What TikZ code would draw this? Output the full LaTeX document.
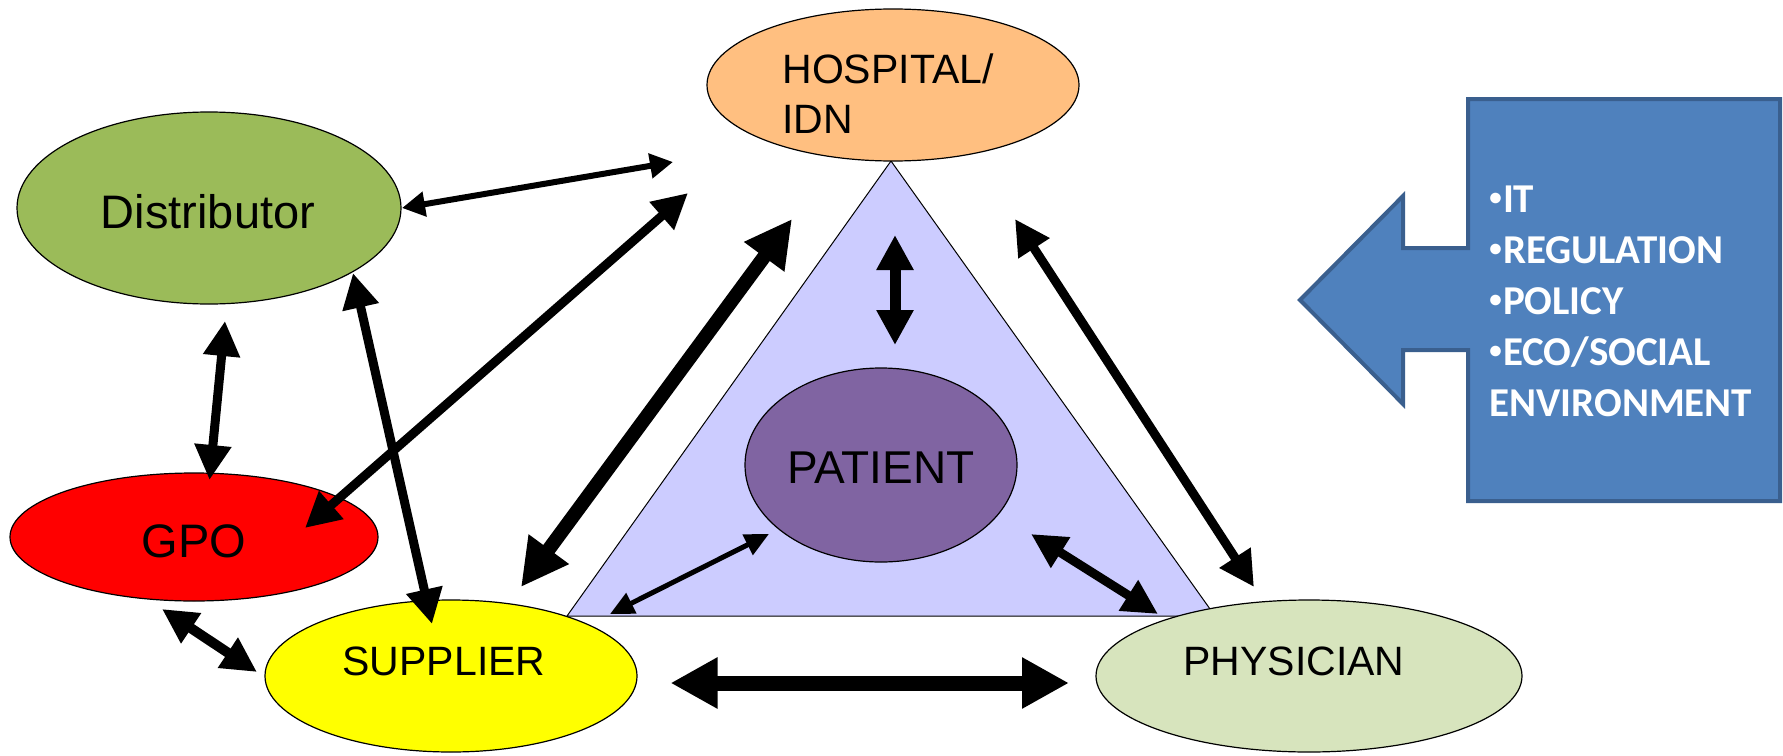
\documentclass[tikz,border=0pt]{standalone}
\usepackage{fontspec}
\setmainfont{Liberation Sans}
\newfontfamily\calfont{Carlito}
\usetikzlibrary{arrows.meta,shapes.geometric}
\definecolor{hospc}{HTML}{FFBF80}
\definecolor{distc}{HTML}{9BBB59}
\definecolor{gpoc}{HTML}{FF0000}
\definecolor{suppc}{HTML}{FFFF00}
\definecolor{physc}{HTML}{D7E4BD}
\definecolor{patc}{HTML}{8064A2}
\definecolor{tric}{HTML}{CCCCFF}
\definecolor{bluec}{HTML}{4F81BD}
\definecolor{blueb}{HTML}{3A5F8E}
\newcommand{\smbul}{\makebox[6.8pt][l]{\raisebox{3.1pt}{\fontsize{12.5pt}{14pt}\selectfont •}}}
\begin{document}
\begin{tikzpicture}[x=0.5pt,y=-0.5pt,
  ell/.style={ellipse,draw=black,line width=0.6pt,inner sep=0pt},
  lab/.style={anchor=base,inner sep=0pt,font=\fontsize{20.5pt}{25pt}\selectfont},
  biglab/.style={anchor=base,inner sep=0pt,font=\fontsize{23.5pt}{28pt}\selectfont},
  blab/.style={anchor=base west,inner sep=0pt,text=white,font=\calfont\bfseries\fontsize{20.5pt}{25pt}\selectfont},
  darr/.style n args={3}{line width=#1,arrows={Triangle[length=#2,width=#3]-Triangle[length=#2,width=#3]}}
]
\useasboundingbox (0,0) rectangle (1783,755);

% triangle
\coordinate (tA) at (891,161);
\coordinate (tB) at (567,616);
\coordinate (tC) at (1215,616);
\filldraw[fill=tric,draw=black,line width=0.5pt] (tA) -- (tB) -- (tC) -- cycle;

% ellipses
\node[ell,fill=hospc,minimum width=186pt,minimum height=76pt] (hosp) at (893,85) {};
\node[ell,fill=distc,minimum width=192pt,minimum height=96pt] (dist) at (209,208) {};
\node[ell,fill=gpoc,minimum width=184pt,minimum height=64pt] (gpo) at (194,537) {};
\node[ell,fill=suppc,minimum width=186pt,minimum height=76pt] (supp) at (451,676) {};
\node[ell,fill=physc,minimum width=213pt,minimum height=76pt] (phys) at (1309,676) {};
\node[ell,fill=patc,minimum width=136pt,minimum height=97pt] (pat) at (881,465) {};

% labels
\node[lab,anchor=base west] (hospT1) at (782,83) {HOSPITAL/};
\node[lab,anchor=base west] (hospT2) at (782,133) {IDN};
\node[biglab] (distT) at (208,228) {Distributor};
\node[biglab] (gpoT) at (194,557) {GPO};
\node[lab] (suppT) at (444,675) {SUPPLIER};
\node[lab] (physT) at (1294,675) {PHYSICIAN};
\node[biglab,font=\fontsize{23pt}{28pt}\selectfont] (patT) at (881,483) {PATIENT};

% arrow end points
\coordinate (a1s) at (402,208);  \coordinate (a1e) at (673,162);
\coordinate (a2s) at (305,528);  \coordinate (a2e) at (688,193);
\coordinate (a3s) at (225,321);  \coordinate (a3e) at (209.5,480);
\coordinate (a4s) at (353,273);  \coordinate (a4e) at (432,624);
\coordinate (a5s) at (792,219);  \coordinate (a5e) at (521,587);
\coordinate (a6s) at (895,235);  \coordinate (a6e) at (895,345);
\coordinate (a7s) at (1015,219); \coordinate (a7e) at (1254,587);
\coordinate (a8s) at (162,609);  \coordinate (a8e) at (257,672);
\coordinate (a9s) at (610,614);  \coordinate (a9e) at (769,534);
\coordinate (a10s) at (1031,534); \coordinate (a10e) at (1158,614);
\coordinate (a11s) at (670.5,683); \coordinate (a11e) at (1069,683);

\draw[darr={3pt}{11.5pt}{12pt}] (a1s) -- (a1e);
\draw[darr={4.5pt}{17.5pt}{17.5pt}] (a2s) -- (a2e);
\draw[darr={4.5pt}{17.5pt}{17.5pt}] (a3s) -- (a3e);
\draw[darr={4.5pt}{17.5pt}{17.5pt}] (a4s) -- (a4e);
\draw[darr={7pt}{23.5pt}{23.5pt}] (a5s) -- (a5e);
\draw[darr={5.5pt}{17.5pt}{17.5pt}] (a6s) -- (a6e);
\draw[darr={4.5pt}{17.5pt}{17.5pt}] (a7s) -- (a7e);
\draw[darr={5pt}{17.5pt}{17pt}] (a8s) -- (a8e);
\draw[darr={2.5pt}{12pt}{11pt}] (a9s) -- (a9e);
\draw[darr={4.5pt}{17.5pt}{17pt}] (a10s) -- (a10e);
\draw[darr={7.5pt}{23.5pt}{24pt}] (a11s) -- (a11e);

% callout
\filldraw[fill=bluec,draw=blueb,line width=2pt,line join=miter]
  (1468,99) -- (1780,99) -- (1780,501) -- (1468,501) -- (1468,350) -- (1403,350)
  -- (1403,404) -- (1300,300) -- (1403,196) -- (1403,248) -- (1468,248) -- cycle;
\node[blab] (b1) at (1489,212) {\smbul IT};
\node[blab] (b2) at (1489,263) {\smbul REGULATION};
\node[blab] (b3) at (1489,314) {\smbul POLICY};
\node[blab] (b4) at (1489,365) {\smbul ECO/SOCIAL};
\node[blab] (b5) at (1489,416) {ENVIRONMENT};
\end{tikzpicture}
\end{document}
